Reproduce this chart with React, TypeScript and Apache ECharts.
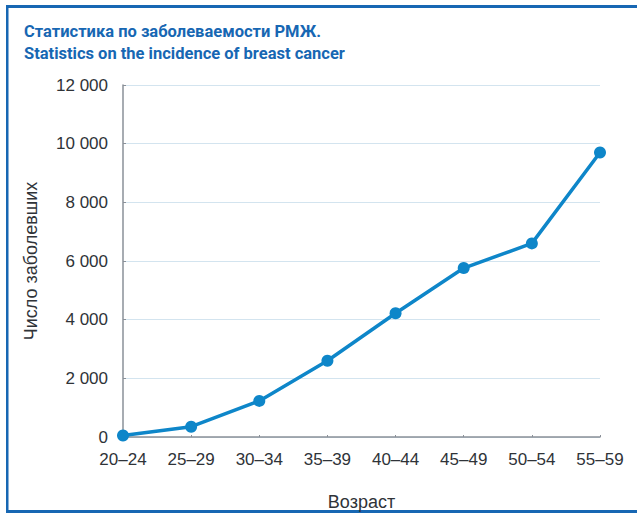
import React, { useEffect, useRef } from "react";
import * as echarts from "echarts";

const categories = ["20–24", "25–29", "30–34", "35–39", "40–44", "45–49", "50–54", "55–59"];
const cases = [50, 350, 1230, 2600, 4220, 5760, 6600, 9700];
const titleLines = ["Статистика по заболеваемости РМЖ.", "Statistics on the incidence of breast cancer"];
const yAxisName = "Число заболевших";
const xAxisName = "Возраст";

const BLUE = "#1767b3";
const LINE = "#0e86c9";
const TEXT = "#2f3338";
const FONT = "'Liberation Sans', Arial, sans-serif";

export default function App() {
  const ref = useRef<HTMLDivElement>(null);
  useEffect(() => {
    if (!ref.current) return;
    const chart = echarts.init(ref.current, null, { renderer: "svg" });
    chart.setOption({
      animation: false,
      backgroundColor: "#ffffff",
      grid: { left: 123, right: 37, top: 85, bottom: 80, containLabel: false },
      graphic: [
        { type: "rect", shape: { x: 6, y: 5, width: 631, height: 3 }, style: { fill: BLUE } },
        { type: "rect", shape: { x: 6, y: 5, width: 2.5, height: 508 }, style: { fill: BLUE } },
        { type: "rect", shape: { x: 6, y: 510, width: 631, height: 3 }, style: { fill: BLUE } },
        {
          type: "text",
          left: 24,
          top: 20,
          style: {
            text: titleLines.join("\n"),
            fill: BLUE,
            font: "bold 16.5px 'Liberation Sans Narrow', 'Roboto', sans-serif",
            lineHeight: 22,
          },
        },
      ],
      xAxis: {
        type: "category",
        data: categories,
        boundaryGap: false,
        name: xAxisName,
        nameLocation: "middle",
        nameGap: 56,
        nameTextStyle: { color: TEXT, fontSize: 18, fontFamily: FONT },
        axisLine: { lineStyle: { color: "#8a9098", width: 1.5 } },
        axisTick: { show: true, inside: true, length: 2, lineStyle: { color: "#8a9098" } },
        axisLabel: { color: TEXT, fontSize: 17, fontFamily: FONT, margin: 14 },
        splitLine: { show: false },
      },
      yAxis: {
        type: "value",
        min: 0,
        max: 12000,
        interval: 2000,
        name: yAxisName,
        nameLocation: "middle",
        nameGap: 83,
        nameRotate: 90,
        nameTextStyle: { color: TEXT, fontSize: 18, fontFamily: FONT },
        axisLine: { show: true, lineStyle: { color: "#8a9098", width: 1.5 } },
        axisTick: { show: true, inside: true, length: 3, lineStyle: { color: "#8a9098" } },
        axisLabel: {
          color: TEXT,
          fontSize: 17,
          fontFamily: FONT,
          margin: 15,
          formatter: (v: number) => (v >= 1000 ? `${Math.floor(v / 1000)} ${String(v % 1000).padStart(3, "0")}` : String(v)),
        },
        splitLine: { show: true, lineStyle: { color: "#d3e4ef", width: 1 } },
      },
      series: [
        {
          type: "line",
          data: cases,
          symbol: "circle",
          symbolSize: 12,
          lineStyle: { color: LINE, width: 3.5 },
          itemStyle: { color: LINE },
        },
      ],
    });
    return () => chart.dispose();
  }, []);
  return <div ref={ref} style={{ position: "fixed", left: 0, top: 0, width: 637, height: 517 }} />;
}
